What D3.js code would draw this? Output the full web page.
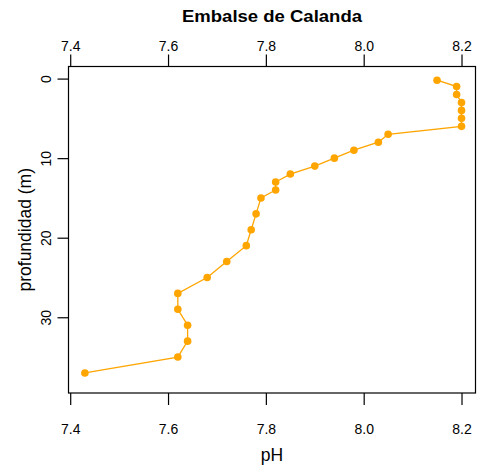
<!DOCTYPE html>
<html lang="es">
  <head>
    <meta charset="utf-8">
    <title>Embalse de Calanda</title>
    <script src="https://d3js.org/d3.v7.min.js"></script>
    <style>
      body { margin: 0; background: #fff; }
      svg text { font-family: "Liberation Sans", Arial, sans-serif; fill: #000; }
    </style>
  </head>
  <body>
    <div id="chart"></div>
    <script>
      // pH profile
      var depth = [0.2, 1, 2, 3, 4, 5, 6, 7, 8, 9, 10, 11, 12, 13, 14, 15, 17, 19, 21, 23, 25, 27, 29, 31, 33, 35, 37];
      var ph = [8.15, 8.19, 8.19, 8.20, 8.20, 8.20, 8.20, 8.05, 8.03, 7.98, 7.94, 7.90, 7.85, 7.82, 7.82, 7.79, 7.78, 7.77, 7.76, 7.72, 7.68, 7.62, 7.62, 7.64, 7.64, 7.62, 7.43];
      var xTicks = [7.4, 7.6, 7.8, 8.0, 8.2];
      var yTicks = [0, 10, 20, 30];

      var W = 479, H = 465;
      var box = {left: 68.5, right: 475.5, top: 66.5, bottom: 393};
      var col = "#FFA500";

      var svg = d3.select("#chart").append("svg")
        .attr("width", W).attr("height", H);

      var x = d3.scaleLinear().domain([7.3965, 8.2286]).range([box.left, box.right]);
      var y = d3.scaleLinear().domain([-1.52, 39.52]).range([box.top, box.bottom]);

      var pts = depth.map(function (d, i) { return {d: d, p: ph[i]}; });

      // line + points
      svg.append("path")
        .datum(pts)
        .attr("fill", "none")
        .attr("stroke", col)
        .attr("stroke-width", 1.3)
        .attr("d", d3.line().x(function (d) { return x(d.p); }).y(function (d) { return y(d.d); }));

      svg.selectAll("circle.pt").data(pts).enter().append("circle")
        .attr("class", "pt")
        .attr("cx", function (d) { return x(d.p); })
        .attr("cy", function (d) { return y(d.d); })
        .attr("r", 3.8)
        .attr("fill", col);

      // frame
      svg.append("rect")
        .attr("x", box.left).attr("y", box.top)
        .attr("width", box.right - box.left).attr("height", box.bottom - box.top)
        .attr("fill", "none").attr("stroke", "#000").attr("stroke-width", 1.2);

      // axes, R style
      var bottomAx = d3.axisBottom(x).tickValues(xTicks).tickFormat(d3.format(".1f")).tickSize(12).tickPadding(19);
      var topAx = d3.axisTop(x).tickValues(xTicks).tickFormat(d3.format(".1f")).tickSize(12).tickPadding(4);
      var leftAx = d3.axisLeft(y).tickValues(yTicks).tickSize(11).tickPadding(6);

      var gb = svg.append("g").attr("transform", "translate(0," + box.bottom + ")").call(bottomAx);
      var gt = svg.append("g").attr("transform", "translate(0," + box.top + ")").call(topAx);
      var gl = svg.append("g").attr("transform", "translate(" + box.left + ",0)").call(leftAx);

      [gb, gt, gl].forEach(function (g) {
        g.select(".domain").remove();
        g.selectAll(".tick line").attr("stroke", "#000").attr("stroke-width", 1.2);
        g.selectAll(".tick text").style("font-size", "14px").style("font-family", "Liberation Sans, Arial, sans-serif");
      });

      // rotated y tick labels
      gl.selectAll(".tick text")
        .attr("transform", "rotate(-90)")
        .attr("x", 0).attr("y", -22)
        .attr("dy", "0.35em")
        .style("text-anchor", "middle");

      // titles
      svg.append("text")
        .attr("x", (box.left + box.right) / 2).attr("y", 22)
        .attr("text-anchor", "middle")
        .attr("textLength", 180).attr("lengthAdjust", "spacingAndGlyphs")
        .style("font-size", "16px").style("font-weight", "bold")
        .text("Embalse de Calanda");

      svg.append("text")
        .attr("x", (box.left + box.right) / 2).attr("y", 461)
        .attr("text-anchor", "middle")
        .style("font-size", "17.5px")
        .text("pH");

      svg.append("text")
        .attr("transform", "translate(31," + ((box.top + box.bottom) / 2) + ") rotate(-90)")
        .attr("text-anchor", "middle")
        .style("font-size", "17.5px")
        .text("profundidad (m)");
    </script>
  </body>
</html>
